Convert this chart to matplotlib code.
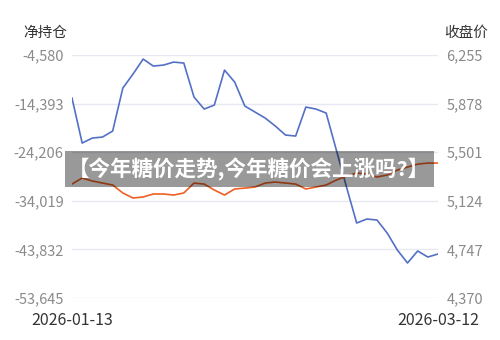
import matplotlib
matplotlib.use("Agg")
import matplotlib.pyplot as plt
from matplotlib.patches import Rectangle
from matplotlib.ticker import FuncFormatter

plt.rcParams['font.family'] = ['Noto Sans CJK SC', 'DejaVu Sans']

dates = ['2026-01-13', '2026-01-14', '2026-01-15', '2026-01-16', '2026-01-19',
         '2026-01-20', '2026-01-21', '2026-01-22', '2026-01-23', '2026-01-26',
         '2026-01-27', '2026-01-28', '2026-01-29', '2026-01-30', '2026-02-02',
         '2026-02-03', '2026-02-04', '2026-02-05', '2026-02-06', '2026-02-09',
         '2026-02-10', '2026-02-11', '2026-02-12', '2026-02-13', '2026-02-24',
         '2026-02-25', '2026-02-26', '2026-02-27', '2026-03-02', '2026-03-03',
         '2026-03-04', '2026-03-05', '2026-03-06', '2026-03-09', '2026-03-10',
         '2026-03-11', '2026-03-12']

net_position = [-13262, -22347, -21338, -21136, -19924, -11243, -8416, -5388,
                -6801, -6599, -5993, -6195, -13060, -15483, -14675, -7609,
                -10031, -14877, -16088, -17300, -18915, -20732, -20934, -15079,
                -15483, -16290, -23761, -31231, -38499, -37692, -37894, -40518,
                -43951, -46575, -44152, -45364, -44758]

close_price = [5254, 5301, 5278, 5262, 5247, 5185, 5146, 5154, 5177, 5177,
               5169, 5185, 5262, 5254, 5208, 5169, 5216, 5223, 5231, 5262,
               5270, 5262, 5254, 5216, 5231, 5247, 5285, 5316, 5340, 5332,
               5309, 5324, 5363, 5386, 5409, 5417, 5417]

left_ticks = [-53645, -43832, -34019, -24206, -14393, -4580]
right_ticks = [4370, 4747, 5124, 5501, 5878, 6255]

fig = plt.figure(figsize=(5, 3.4), dpi=100)
ax = fig.add_axes([0.144, 0.1235, 0.732, 0.7145])
ax2 = ax.twinx()

x = list(range(len(dates)))
ax.plot(x, net_position, color='#5470c6', lw=1.2, zorder=3)
ax2.plot(x, close_price, color='#ee6022', lw=1.2, zorder=3)

ax.set_xlim(0, len(dates) - 1)
ax.set_ylim(left_ticks[0], left_ticks[-1])
ax2.set_ylim(right_ticks[0], right_ticks[-1])
ax.set_yticks(left_ticks)
ax2.set_yticks(right_ticks)
ax.yaxis.set_major_formatter(FuncFormatter(lambda v, p: f'{int(round(v)):,}'))
ax2.yaxis.set_major_formatter(FuncFormatter(lambda v, p: f'{int(round(v)):,}'))

ax.set_xticks([0, len(dates) - 1])
ax.set_xticklabels([dates[0], dates[-1]])

ax.grid(axis='y', color='#e6e9f2', lw=1)
ax.set_axisbelow(True)
for a in (ax, ax2):
    for s in a.spines.values():
        s.set_visible(False)
    a.tick_params(length=0)
ax.tick_params(axis='y', colors='#8a8a8a', labelsize=10.5, pad=6)
ax2.tick_params(axis='y', colors='#8a8a8a', labelsize=10.5, pad=6)
ax.tick_params(axis='x', colors='#333333', labelsize=11.5, pad=10)

fig.text(0.09, 0.903, '净持仓', fontsize=10.5, color='#333333', ha='center', va='center')
fig.text(0.933, 0.903, '收盘价', fontsize=10.5, color='#333333', ha='center', va='center')

# title banner over the chart
fig.patches.append(Rectangle((65 / 500, 1 - 187 / 340), 369 / 500, 36 / 340,
                             transform=fig.transFigure, facecolor='black',
                             alpha=0.4, edgecolor='none', zorder=10))
fig.text(0.498, 1 - 169 / 340, '【今年糖价走势,今年糖价会上涨吗?】', fontsize=15.5,
         fontweight='bold', color='white', ha='center', va='center', zorder=11)

fig.savefig('out.png', dpi=100)
